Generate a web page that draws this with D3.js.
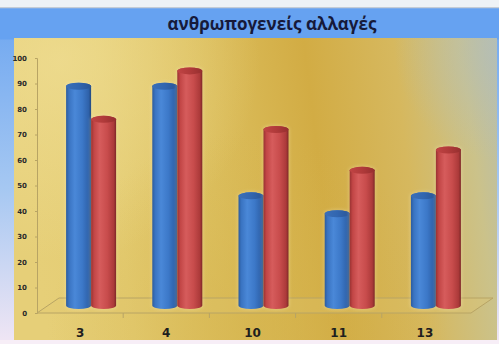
<!DOCTYPE html>
<html>
<head>
<meta charset="utf-8">
<script src="https://cdn.jsdelivr.net/npm/d3@7"></script>
<style>
  html, body { margin: 0; padding: 0; background: #f6f2f8; }
  svg { display: block; }
</style>
</head>
<body>
<svg id="chart" width="499" height="344"></svg>
<script>
// Chart data
const title = "ανθρωπογενείς αλλαγές";
const categories = ["3", "4", "10", "11", "13"];
const seriesBlue = [86, 86, 43, 36, 43];
const seriesRed = [73, 92, 69, 53, 61];
const yTicks = [0, 10, 20, 30, 40, 50, 60, 70, 80, 90, 100];

const W = 499, H = 344;
const svg = d3.select("#chart");
const defs = svg.append("defs");

// Frame: pale strip, blue title band, soft side and bottom edges
const frameGrad = defs.append("linearGradient").attr("id", "frameSide")
  .attr("x1", 0).attr("y1", 0).attr("x2", 0).attr("y2", 1);
frameGrad.append("stop").attr("offset", 0).attr("stop-color", "#6aa4f0");
frameGrad.append("stop").attr("offset", 0.55).attr("stop-color", "#a6c8f2");
frameGrad.append("stop").attr("offset", 1).attr("stop-color", "#f1e6f4");
svg.append("rect").attr("x", 0).attr("y", 0).attr("width", W).attr("height", H).attr("fill", "url(#frameSide)");
svg.append("rect").attr("x", 0).attr("y", 0).attr("width", W).attr("height", 7).attr("fill", "#eef2f6");
svg.append("rect").attr("x", 0).attr("y", 7).attr("width", W).attr("height", 1.5).attr("fill", "#c4ccd6");
svg.append("rect").attr("x", 0).attr("y", 8.5).attr("width", W).attr("height", 31).attr("fill", "#66a2f1");
svg.append("rect").attr("x", 0).attr("y", 340).attr("width", W).attr("height", 4).attr("fill", "#f7eef7");

// Gold plot background
const px0 = 14, py0 = 38, px1 = 497, py1 = 340;
const gold = defs.append("linearGradient").attr("id", "gold")
  .attr("gradientUnits", "userSpaceOnUse")
  .attr("x1", px0).attr("y1", py0 + 40).attr("x2", px1).attr("y2", py0 - 20);
[[0, "#e6cf78"], [0.18, "#e4cc72"], [0.38, "#dcbf5e"], [0.6, "#d2ac44"], [0.78, "#d6b85e"], [0.92, "#cbc28a"], [1, "#b8beac"]]
  .forEach(([o, c]) => gold.append("stop").attr("offset", o).attr("stop-color", c));
svg.append("rect").attr("x", px0).attr("y", py0).attr("width", px1 - px0).attr("height", py1 - py0).attr("fill", "url(#gold)");

// soft light patch top-left and darker gold lower-middle
const glow = defs.append("radialGradient").attr("id", "glow")
  .attr("gradientUnits", "userSpaceOnUse").attr("cx", 60).attr("cy", 60).attr("r", 200);
glow.append("stop").attr("offset", 0).attr("stop-color", "#f0df96").attr("stop-opacity", 0.7);
glow.append("stop").attr("offset", 1).attr("stop-color", "#f0df96").attr("stop-opacity", 0);
svg.append("rect").attr("x", px0).attr("y", py0).attr("width", px1 - px0).attr("height", py1 - py0).attr("fill", "url(#glow)");

const shade = defs.append("radialGradient").attr("id", "shade")
  .attr("gradientUnits", "userSpaceOnUse").attr("cx", 250).attr("cy", 330).attr("r", 200);
shade.append("stop").attr("offset", 0).attr("stop-color", "#d4b24a").attr("stop-opacity", 0.55);
shade.append("stop").attr("offset", 1).attr("stop-color", "#d4b24a").attr("stop-opacity", 0);
svg.append("rect").attr("x", px0).attr("y", py0).attr("width", px1 - px0).attr("height", py1 - py0).attr("fill", "url(#shade)");

const cool = defs.append("radialGradient").attr("id", "cool")
  .attr("gradientUnits", "userSpaceOnUse").attr("cx", 505).attr("cy", 50).attr("r", 110);
cool.append("stop").attr("offset", 0).attr("stop-color", "#b0bec0").attr("stop-opacity", 0.6);
cool.append("stop").attr("offset", 1).attr("stop-color", "#b0bec0").attr("stop-opacity", 0);
svg.append("rect").attr("x", px0).attr("y", py0).attr("width", px1 - px0).attr("height", py1 - py0).attr("fill", "url(#cool)");

// Title
svg.append("text").attr("x", 272).attr("y", 30)
  .attr("text-anchor", "middle")
  .attr("font-family", "'Open Sans', 'Noto Sans', sans-serif")
  .attr("font-weight", "bold").attr("font-size", 17)
  .attr("fill", "#161a3a")
  .text(title);

// Scales: front edge of the floor; bars sit half a depth step behind it
const depthX = 22, depthY = -15;
const x = d3.scaleBand().domain(categories).range([37, 468]);
const y = d3.scaleLinear().domain([0, 100]).range([313, 58]);

const lineCol = "#b8a464";

// Floor
const fx0 = x.range()[0], fx1 = x.range()[1] + 3, fy = y(0);
svg.append("path")
  .attr("d", `M${fx0},${fy} L${fx0 + depthX},${fy + depthY} L${fx1 + depthX},${fy + depthY} L${fx1},${fy} Z`)
  .attr("fill", "#e0c870").attr("fill-opacity", 0.3)
  .attr("stroke", lineCol).attr("stroke-width", 1);

// category ticks under the front edge
svg.append("g").selectAll("line")
  .data(categories.slice(1))
  .join("line")
  .attr("x1", d => x(d)).attr("x2", d => x(d))
  .attr("y1", fy).attr("y2", fy + 5)
  .attr("stroke", lineCol).attr("stroke-width", 1);

// Value axis
const yAxis = svg.append("g").attr("transform", `translate(${fx0},0)`)
  .call(d3.axisLeft(y).tickValues(yTicks).tickSize(2).tickPadding(8));
yAxis.select(".domain").attr("stroke", lineCol);
yAxis.selectAll(".tick line").attr("stroke", lineCol);
yAxis.selectAll(".tick text")
  .attr("font-family", "'DejaVu Sans', sans-serif")
  .attr("font-weight", "bold").attr("font-size", 7)
  .attr("fill", "#2a2a2a");

// Category labels
svg.append("g").selectAll("text")
  .data(categories)
  .join("text")
  .attr("x", d => x(d) + x.bandwidth() / 2)
  .attr("y", 337)
  .attr("text-anchor", "middle")
  .attr("font-family", "'DejaVu Sans', sans-serif")
  .attr("font-weight", "bold").attr("font-size", 12)
  .attr("fill", "#1e1e1e")
  .text(d => d);

// Cylinder shading
function cylGrad(id, stops) {
  const g = defs.append("linearGradient").attr("id", id)
    .attr("x1", 0).attr("y1", 0).attr("x2", 1).attr("y2", 0);
  stops.forEach(([o, c]) => g.append("stop").attr("offset", o).attr("stop-color", c));
}
cylGrad("blueBody", [[0, "#2c5c9e"], [0.12, "#3a74c2"], [0.35, "#4a88d8"], [0.65, "#3c78c8"], [0.9, "#2f62aa"], [1, "#23497e"]]);
cylGrad("redBody", [[0, "#9a3232"], [0.12, "#c24646"], [0.35, "#d65c5c"], [0.65, "#c84c4c"], [0.9, "#ac3a3a"], [1, "#7e2828"]]);
cylGrad("blueTop", [[0, "#3a6fb8"], [0.5, "#3266b0"], [1, "#2a5596"]]);
cylGrad("redTop", [[0, "#c04444"], [0.5, "#b03a3a"], [1, "#962f2f"]]);

const halo = defs.append("filter").attr("id", "halo").attr("x", "-30%").attr("y", "-10%").attr("width", "160%").attr("height", "120%");
halo.append("feGaussianBlur").attr("stdDeviation", 1.6);

const barW = 25, ry = 3.5;
const rx = barW / 2;

const series = [
  { values: seriesBlue, body: "blueBody", top: "blueTop", offset: -barW / 2 },
  { values: seriesRed, body: "redBody", top: "redTop", offset: barW / 2 }
];

const barsG = svg.append("g");
series.forEach(s => {
  const g = barsG.append("g");
  const items = categories.map((c, i) => {
    const cx = x(c) + x.bandwidth() / 2 + depthX / 2 + s.offset;
    const base = y(0) + depthY / 2;
    const top = y(s.values[i]) + depthY / 2;
    return { cx, base, top };
  });
  const bodyPath = d => `M${d.cx - rx},${d.top} L${d.cx - rx},${d.base} A${rx},${ry} 0 0 0 ${d.cx + rx},${d.base} L${d.cx + rx},${d.top} A${rx},${ry} 0 0 0 ${d.cx - rx},${d.top} Z`;
  // light halo behind each cylinder
  g.selectAll("path.halo").data(items).join("path").attr("class", "halo")
    .attr("d", d => `M${d.cx - rx},${d.top} L${d.cx - rx},${d.base} A${rx},${ry} 0 0 0 ${d.cx + rx},${d.base} L${d.cx + rx},${d.top} A${rx},${ry} 0 0 0 ${d.cx - rx},${d.top} A${rx},${ry} 0 0 1 ${d.cx + rx},${d.top}`)
    .attr("fill", "none").attr("stroke", "#f6ecc0").attr("stroke-width", 2)
    .attr("stroke-opacity", 0.35).attr("filter", "url(#halo)");
  g.selectAll("path.body").data(items).join("path").attr("class", "body")
    .attr("d", bodyPath)
    .attr("fill", `url(#${s.body})`);
  g.selectAll("ellipse.top").data(items).join("ellipse").attr("class", "top")
    .attr("cx", d => d.cx).attr("cy", d => d.top)
    .attr("rx", rx).attr("ry", ry)
    .attr("fill", `url(#${s.top})`);
});
</script>
</body>
</html>
